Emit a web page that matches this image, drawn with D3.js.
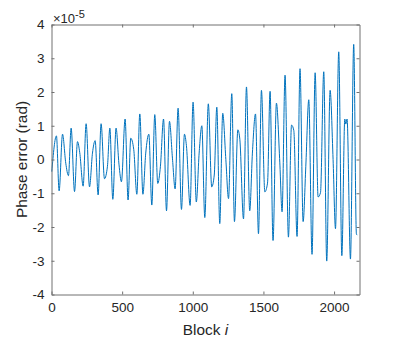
<!DOCTYPE html>
<html>
<head>
<meta charset="utf-8">
<script src="https://cdn.jsdelivr.net/npm/d3@7"></script>
<style>
  body { margin: 0; background: #fff; }
  svg { display: block; font-family: "Liberation Sans", Arial, sans-serif; }
</style>
</head>
<body>
<svg class="phase" width="399" height="340"></svg>
<script>
// block index of each sample
const blockIdx = [2, 35, 54, 78, 101, 120, 139, 163, 184, 200, 224, 245, 269, 290, 309, 330, 351, 375,
  396, 413, 434, 457, 478, 495, 521, 542, 561, 582, 604, 625, 647, 667, 689, 710, 731, 752,
  771, 793, 814, 835, 856, 875, 896, 920, 941, 955, 981, 1002, 1025, 1045, 1064, 1085, 1110, 1134,
  1152, 1170, 1191, 1212, 1234, 1253, 1276, 1295, 1319, 1333, 1359, 1380, 1403, 1422, 1444, 1465, 1486, 1510,
  1529, 1547, 1568, 1592, 1616, 1632, 1653, 1677, 1699, 1715, 1738, 1759, 1781, 1800, 1821, 1844, 1866, 1887,
  1904, 1927, 1948, 1972, 1993, 2010, 2033, 2055, 2076, 2083, 2092, 2116, 2139, 2158, 2163];
// phase error, in units of 1e-5 rad
const phaseErr = [-0.36, 0.70, -0.93, 0.75, -0.11, -0.48, 0.93, -0.95, 0.53, 0.20, -0.79, 1.06, -0.81, 0.19, 0.56, -1.05, 1.06, -0.57,
  -0.20, 0.93, -1.18, 0.93, -0.16, -0.66, 1.20, -1.20, 0.63, 0.30, -1.03, 1.35, -1.03, 0.19, 0.75, -1.35, 1.33, -0.71,
  -0.20, 1.20, -1.52, 1.13, 0.04, -0.87, 1.52, -1.48, 0.75, 0.41, -1.36, 1.70, -1.26, 0.19, 1.00, -1.72, 1.65, -0.81,
  -0.46, 1.55, -1.90, 1.37, 0.00, -1.16, 1.95, -1.84, 0.88, 0.60, -1.76, 2.15, -1.52, 0.19, 1.35, -2.20, 2.05, -0.96,
  -0.70, 2.02, -2.40, 1.67, -0.10, -1.55, 2.50, -2.30, 1.02, 0.86, -2.28, 2.69, -1.84, -0.20, 1.77, -2.81, 2.57, -1.11,
  -0.98, 2.60, -3.01, 2.05, 0.00, -2.05, 3.19, -2.85, 1.20, 1.05, 1.20, -2.95, 3.41, -2.20, -2.24];

const xTicks = [0, 500, 1000, 1500, 2000];
const yTicks = [-4, -3, -2, -1, 0, 1, 2, 3, 4];

const svg = d3.select('svg.phase');
const plotL = 51.5, plotR = 359.5, plotT = 24.5, plotB = 294.5;
const textColor = '#262626';
const axisColor = '#707070';
const plain = d => String(d);   // matlab style: no thousands comma, ascii minus

const x = d3.scaleLinear().domain([0, 2180]).range([plotL, plotR]);
const y = d3.scaleLinear().domain([-4, 4]).range([plotB, plotT]);

// data line
const line = d3.line()
  .x((d, i) => x(blockIdx[i]))
  .y(d => y(d))
  .curve(d3.curveMonotoneX);

svg.append('path')
  .datum(phaseErr)
  .attr('d', line)
  .style('fill', 'none')
  .style('stroke', '#0072BD')
  .style('stroke-width', 1);

// axes, ticks pointing inwards
const tickLen = 3;
const g = svg.append('g');

g.append('g')
  .attr('transform', 'translate(0,' + plotB + ')')
  .call(d3.axisBottom(x).tickValues(xTicks).tickFormat(plain).tickSizeInner(-tickLen).tickSizeOuter(0).tickPadding(8));
g.append('g')
  .attr('transform', 'translate(0,' + plotT + ')')
  .call(d3.axisTop(x).tickValues(xTicks).tickSizeInner(-tickLen).tickSizeOuter(0).tickFormat(''));
g.append('g')
  .attr('transform', 'translate(' + plotL + ',0)')
  .call(d3.axisLeft(y).tickValues(yTicks).tickFormat(plain).tickSizeInner(-tickLen).tickSizeOuter(0).tickPadding(7));
g.append('g')
  .attr('transform', 'translate(' + plotR + ',0)')
  .call(d3.axisRight(y).tickValues(yTicks).tickSizeInner(-tickLen).tickSizeOuter(0).tickFormat(''));

g.selectAll('.domain').style('stroke', axisColor);
g.selectAll('.tick line').style('stroke', axisColor);
g.selectAll('.tick text')
  .style('fill', textColor)
  .style('font-size', '13.5px')
  .style('font-family', '"Liberation Sans", Arial, sans-serif');

// exponent label
const expo = svg.append('text')
  .attr('x', 53)
  .attr('y', 23)
  .style('font-size', '13px')
  .style('fill', textColor);
expo.append('tspan').text('\u00d710');
expo.append('tspan').attr('dy', -5).style('font-size', '11px').text('-5');

// axis labels
const xl = svg.append('text')
  .attr('x', (plotL + plotR) / 2)
  .attr('y', 335)
  .attr('text-anchor', 'middle')
  .style('font-size', '15.4px')
  .style('fill', textColor);
xl.append('tspan').text('Block ');
xl.append('tspan').style('font-style', 'italic').text('i');

svg.append('text')
  .attr('transform', 'translate(27,' + (plotT + plotB) / 2 + ') rotate(-90)')
  .attr('text-anchor', 'middle')
  .style('font-size', '15.4px')
  .style('fill', textColor)
  .text('Phase error (rad)');
</script>
</body>
</html>
